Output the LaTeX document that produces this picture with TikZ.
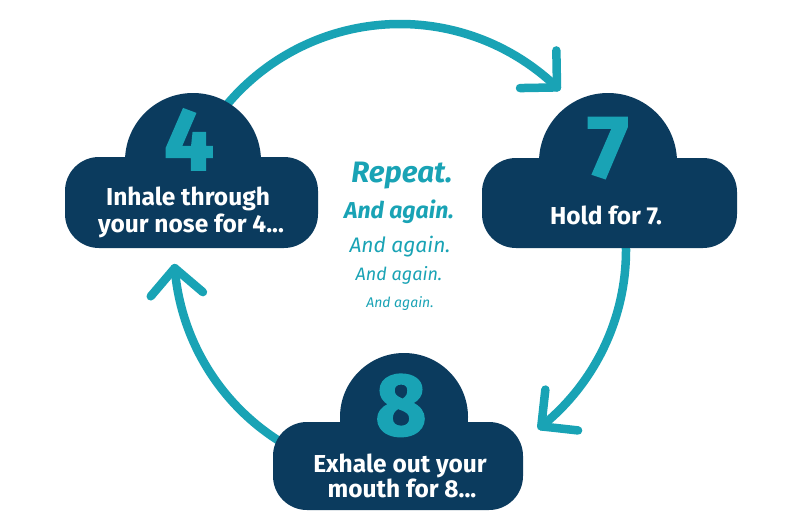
\documentclass[tikz,border=0pt]{standalone}
\usepackage{fontspec}
\setmainfont{Fira Sans}
\newfontfamily\numfont[FakeBold=2]{Fira Sans Bold}
\usetikzlibrary{calc}
\definecolor{teal1}{HTML}{19A3B5}
\definecolor{navy1}{HTML}{0B3B5E}
\tikzset{
  cyc/.style={draw=teal1, line width=8.5pt, line cap=round, line join=round},
  cloudfill/.style={fill=navy1},
  numtxt/.style={anchor=base, text=teal1, font=\numfont\fontsize{88}{88}\selectfont, inner sep=0pt},
  cloudtxt/.style={anchor=base, text=white, font=\bfseries\fontsize{24.5}{28}\selectfont, inner sep=0pt},
  midtxt/.style={anchor=base, text=teal1, inner sep=0pt}
}
\begin{document}
\begin{tikzpicture}[x=1pt,y=-1pt]
\useasboundingbox (0,0) rectangle (800,522);
\fill[white] (0,0) rectangle (800,522);
\coordinate (C) at (400,250);
% arcs
\coordinate (s1) at ($(C)+(-145:226)$);
\coordinate (t1) at ($(C)+(-46:226)$);
\coordinate (s2) at ($(C)+(-5:226)$);
\coordinate (t2) at ($(C)+(51.3:226)$);
\coordinate (s3) at ($(C)+(115:226)$);
\coordinate (t3) at ($(C)+(175.4:226)$);
\draw[cyc] (s1) arc[start angle=-145, end angle=-46, radius=226];
\draw[cyc] ($(t1)+(-91:37)$) -- (t1) -- ($(t1)+(-181:37)$);
\draw[cyc] (s2) arc[start angle=-5, end angle=51.3, radius=226];
\draw[cyc] ($(t2)+(-83.7:37)$) -- (t2) -- ($(t2)+(6.3:37)$);
\draw[cyc] (s3) arc[start angle=115, end angle=175.4, radius=226];
\draw[cyc] ($(t3)+(130.4:37)$) -- (t3) -- ($(t3)+(40.4:37)$);
% clouds
\fill[cloudfill, rounded corners=34pt] (65,157) rectangle (318,248);
\fill[cloudfill] (193,161) circle[radius=68];
\fill[cloudfill, rounded corners=34pt] (482,158) rectangle (737,248);
\fill[cloudfill] (608,162) circle[radius=69];
\fill[cloudfill, rounded corners=34pt] (273,422) rectangle (523,510);
\fill[cloudfill] (404,417) circle[radius=64];
% numbers
\node[numtxt] (n4) at (189,170) {4};
\node[numtxt] (n7) at (608,177) {7};
\node[numtxt] (n8) at (401,435) {8};
% cloud texts
\node[cloudtxt] (l4a) at (188,205) {Inhale through};
\node[cloudtxt] (l4b) at (191,232) {your nose for 4...};
\node[cloudtxt] (l7) at (606,224) {Hold for 7.};
\node[cloudtxt] (l8a) at (400,472) {Exhale out your};
\node[cloudtxt] (l8b) at (402,497) {mouth for 8...};
% middle text
\node[midtxt, font=\bfseries\itshape\fontsize{29.5}{32}\selectfont] (r1) at (402,182) {Repeat.};
\node[midtxt, font=\bfseries\itshape\fontsize{23}{26}\selectfont] (r2) at (399,218) {And again.};
\node[midtxt, font=\itshape\fontsize{21}{24}\selectfont] (r3) at (400,252) {And again.};
\node[midtxt, font=\itshape\fontsize{18}{20}\selectfont] (r4) at (399,280) {And again.};
\node[midtxt, font=\itshape\fontsize{14}{16}\selectfont] (r5) at (400,307) {And again.};
\end{tikzpicture}
\end{document}
